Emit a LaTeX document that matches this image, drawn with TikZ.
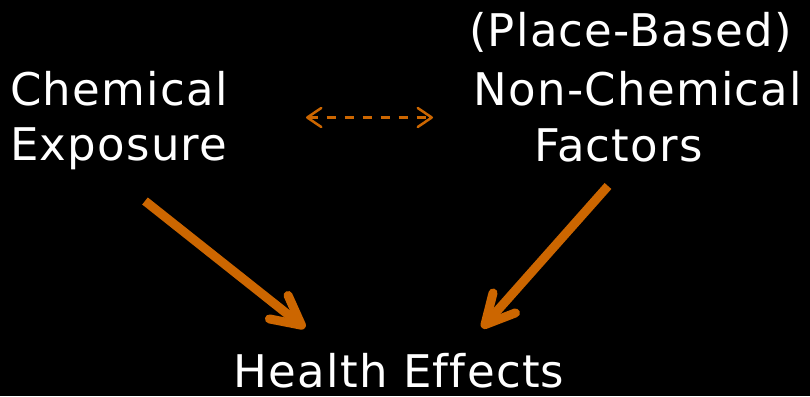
\documentclass[tikz,border=0pt]{standalone}
\usepackage{fontspec}
\setmainfont{DejaVu Sans}[LetterSpace=2.8,Ligatures=NoCommon]
\usetikzlibrary{arrows.meta}
\definecolor{rust}{RGB}{204,102,0}
\begin{document}
\begin{tikzpicture}[x=1pt,y=-1pt]
\tikzstyle{word}=[text=white,inner sep=0pt,text depth=0pt,font=\fontsize{45}{54}\selectfont]
\tikzstyle{link}=[draw=rust,line width=9pt,-{Straight Barb[length=29pt,width=30pt,round]}]
\tikzstyle{pair}=[draw=rust,line width=2.5pt,dash pattern=on 9pt off 9pt,{Straight Barb[length=14pt,width=19pt,round]}-{Straight Barb[length=14pt,width=19pt,round]}]
\fill[black] (0,0) rectangle (810,396);
\useasboundingbox (0,0) rectangle (810,396);

\node[word,anchor=base west] at (10,105) (chem) {Chemical};
\node[word,anchor=base west] at (10,160.5) (expo) {Exposure};
\node[word,anchor=base] at (630.5,47) (place) {(Place-Based)};
\node[word,anchor=base] at (638,105) (nonchem) {Non-Chemical};
\node[word,anchor=base] at (618.5,161) (factors) {Factors};
\node[word,anchor=base] at (399,387) (health) {Health Effects};

\coordinate (chemfrom) at (145,201);
\coordinate (chemto) at (305,328);
\coordinate (factfrom) at (608,186);
\coordinate (factto) at (482,328);
\coordinate (lefttip) at (306,117.5);
\coordinate (righttip) at (433,117.5);

\draw[link] (chemfrom) -- (chemto);
\draw[link] (factfrom) -- (factto);
\draw[pair] (lefttip) -- (righttip);
\end{tikzpicture}
\end{document}
